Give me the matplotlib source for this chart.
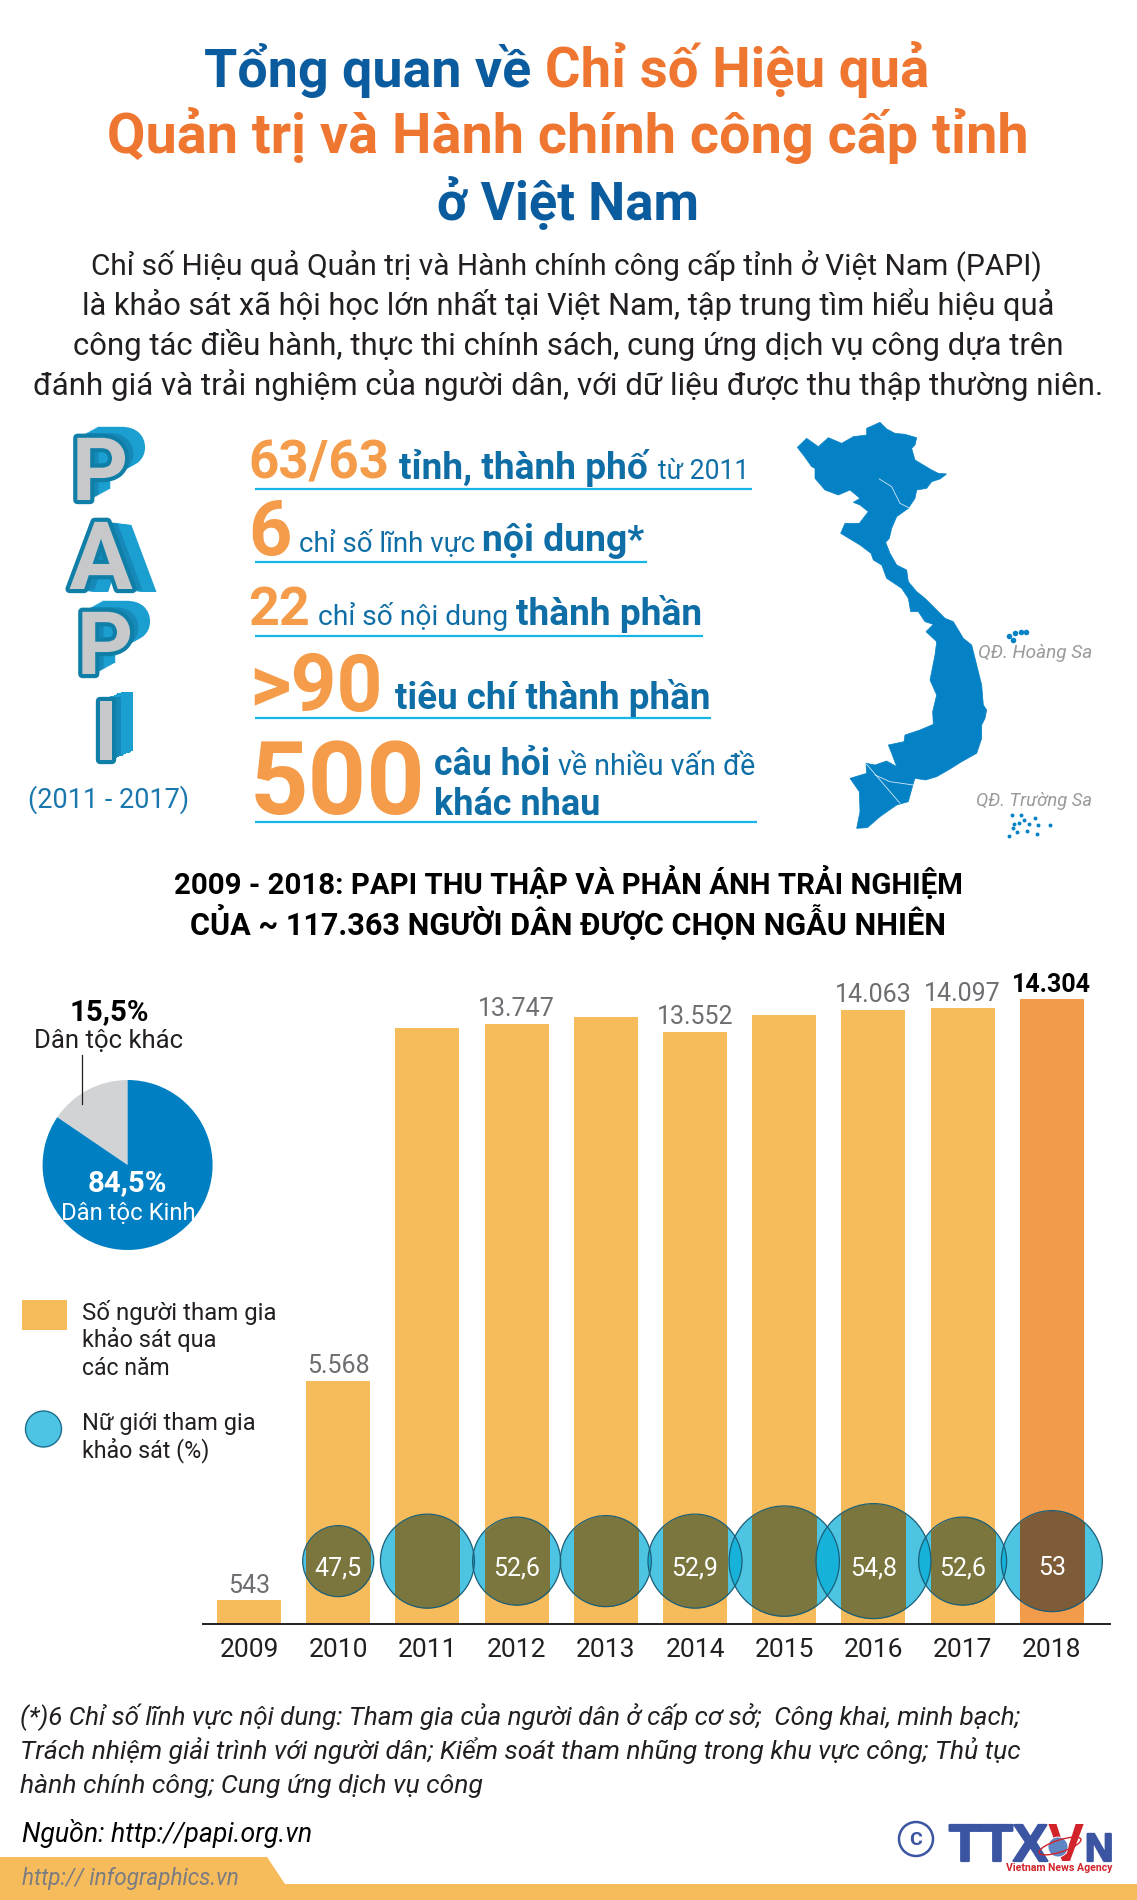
import numpy as np
import matplotlib
matplotlib.use("Agg")
import matplotlib.pyplot as plt
from matplotlib.patches import Polygon, Rectangle, Ellipse
import matplotlib.patheffects as pe

plt.rcParams['font.family'] = ['Roboto', 'Noto Sans', 'DejaVu Sans']

# --- data ---
years = ['2009', '2010', '2011', '2012', '2013', '2014', '2015', '2016', '2017', '2018']
respondents = [543, 5568, 13642, 13747, 13892, 13552, 13955, 14063, 14097, 14304]
bar_labels = ['543', '5.568', '', '13.747', '', '13.552', '', '14.063', '14.097', '14.304']
# no bubble in 2009; 2011, 2013, 2015 have no printed number, estimated from circle size
women_years = ['2010', '2011', '2012', '2013', '2014', '2015', '2016', '2017', '2018']
women_pct = [47.5, 52.9, 52.6, 52.75, 52.9, 54.2, 54.8, 52.6, 53.0]
women_labels = ['47,5', '', '52,6', '', '52,9', '', '54,8', '52,6', '53']
pie_labels = ['Dân tộc khác', 'Dân tộc Kinh']
pie_values = [15.5, 84.5]

# circle size scale (percent -> px)
scale_pct = [47.5, 52.6, 52.9, 53.0, 54.8]
scale_px = [71, 88, 94, 101, 115]

W, H = 1137, 1900
DPI = 100
BLUE_T = '#0b5c9e'
ORANGE_T = '#ef7630'
ORANGE = '#f49c4a'
BLUE = '#0f6ea6'
CYAN = '#17b4e8'
INK = '#231f20'
BAR = '#f6bc5c'
BAR_HI = '#f29b4b'
GREY = '#6d6e71'

fig = plt.figure(figsize=(W / DPI, H / DPI), dpi=DPI, facecolor='white')
renderer = fig.canvas.get_renderer()


def px_axes(x0, y0, x1, y1):
    # axes from pixel box, y counted from the top
    return fig.add_axes([x0 / W, 1 - y1 / H, (x1 - x0) / W, (y1 - y0) / H])


bg = fig.add_axes([0, 0, 1, 1])
bg.set_xlim(0, W)
bg.set_ylim(H, 0)
bg.axis('off')
bg.set_zorder(5)


def put(x0, x1, y, s, color=INK, weight='normal', style='normal', family=None):
    # text from x0 with its size set so that it ends near x1
    t = bg.text(x0, y, s, color=color, fontsize=10, fontweight=weight, fontstyle=style,
                ha='left', va='baseline', family=family or plt.rcParams['font.family'], zorder=6)
    w = t.get_window_extent(renderer).width
    t.set_fontsize(10 * (x1 - x0) / w)
    return t


# --- title ---
put(204, 532, 87, 'Tổng quan về', BLUE_T, 'bold')
put(545, 930, 87, 'Chỉ số Hiệu quả', ORANGE_T, 'bold')
put(107, 1030, 153, 'Quản trị và Hành chính công cấp tỉnh', ORANGE_T, 'bold')
put(437, 700, 220, 'ở Việt Nam', BLUE_T, 'bold')

put(91, 1044, 275, 'Chỉ số Hiệu quả Quản trị và Hành chính công cấp tỉnh ở Việt Nam (PAPI)')
put(82, 1054, 315, 'là khảo sát xã hội học lớn nhất tại Việt Nam, tập trung tìm hiểu hiệu quả')
put(73, 1064, 355, 'công tác điều hành, thực thi chính sách, cung ứng dịch vụ công dựa trên')
put(33, 1106, 395, 'đánh giá và trải nghiệm của người dân, với dữ liệu được thu thập thường niên.')

# --- PAPI letters: one text each, the depth comes from shadow effects ---
for ch, cx, base, size, dx, dy in [('P', 100, 500, 63, 20, -11), ('A', 101, 589, 68, 24, 3),
                                   ('P', 105, 674, 63, 20, -11), ('I', 106, 760, 60, 21, -9)]:
    depth = [pe.SimplePatchShadow(offset=(dx * k / 12 * 0.72, -dy * k / 12 * 0.72),
                                  shadow_rgbFace='#1b9fd1' if k > 5 else '#1789b8', alpha=1.0)
             for k in range(12, 0, -1)]
    bg.text(cx, base, ch, color='#c7c8ca', fontsize=size, fontweight='bold', ha='center', va='baseline',
            path_effects=depth + [pe.Stroke(linewidth=6, foreground='#0f7fa8'), pe.Normal()])
put(28, 188, 808, '(2011 - 2017)', '#1a77ad')

# --- numbers block ---
put(248, 388, 479, '63/63', ORANGE, 'bold')
put(399, 649, 479, 'tỉnh, thành phố', BLUE, 'bold')
put(658, 749, 479, 'từ 2011', BLUE)
put(248, 291, 555, '6', ORANGE, 'bold')
put(299, 475, 551, 'chỉ số lĩnh vực', BLUE)
put(482, 645, 551, 'nội dung*', BLUE, 'bold')
put(248, 310, 625, '22', ORANGE, 'bold')
put(318, 509, 625, 'chỉ số nội dung', BLUE)
put(516, 703, 625, 'thành phần', BLUE, 'bold')
put(249, 382, 711, '>90', ORANGE, 'bold')
put(395, 711, 709, 'tiêu chí thành phần', BLUE, 'bold')
put(250, 424, 814, '500', ORANGE, 'bold')
put(434, 551, 775, 'câu hỏi', BLUE, 'bold')
put(558, 756, 775, 'về nhiều vấn đề', BLUE)
put(434, 600, 815, 'khác nhau', BLUE, 'bold')
for y, x1 in [(488.5, 752), (561.5, 647), (635.5, 703), (717.5, 711), (822, 757)]:
    bg.plot([255, x1], [y, y], color=CYAN, lw=1.6, solid_capstyle='butt')

# --- map, outline traced in crop coords ---
map_outline = [(300, 22), (320, 42), (345, 55), (375, 58), (410, 68), (405, 90), (395, 100), (405, 135),
               (430, 150), (455, 165), (475, 175), (500, 177), (480, 192), (455, 200), (440, 220), (410, 225),
               (405, 250), (385, 280), (350, 305), (335, 340), (328, 370), (317, 382), (330, 415), (350, 450),
               (380, 465), (385, 500), (410, 530), (435, 550), (470, 585), (495, 610), (520, 620), (550, 670),
               (575, 690), (590, 750), (605, 810), (610, 870), (620, 885), (615, 910), (605, 930), (605, 970),
               (590, 1015), (545, 1040), (505, 1065), (470, 1085), (437, 1095), (405, 1090), (400, 1105),
               (385, 1160), (350, 1170), (300, 1205), (262, 1238), (230, 1240), (240, 1190), (238, 1130),
               (210, 1090), (260, 1075), (258, 1045), (285, 1050), (320, 1038), (350, 1055), (335, 1015),
               (325, 990), (372, 980), (375, 960), (420, 945), (460, 928), (458, 890), (470, 840), (450, 795),
               (465, 720), (470, 680), (438, 650), (460, 628), (435, 620), (415, 590), (392, 590), (385, 550),
               (365, 520), (320, 490), (305, 450), (280, 435), (273, 415), (240, 390), (182, 355), (195, 325),
               (238, 325), (265, 290), (240, 270), (220, 262), (240, 250), (210, 225), (175, 240), (135, 225),
               (105, 190), (105, 160), (95, 155), (70, 120), (52, 97), (80, 70), (115, 95), (145, 68), (185, 85),
               (220, 65), (260, 60), (260, 40)]
rivers = [[(298, 192), (335, 215), (360, 265), (390, 280)],
          [(260, 1048), (360, 1165)],
          [(285, 1080), (330, 1100), (400, 1110)]]
hoang_sa = [(688, 662), (705, 655), (722, 652), (738, 650), (700, 675)]
truong_sa = [(697, 1200), (722, 1200), (765, 1210), (703, 1228), (718, 1225), (733, 1215), (748, 1228),
             (775, 1230), (810, 1230), (712, 1250), (740, 1248), (770, 1258), (688, 1262), (700, 1240)]


def crop_xy(pts):
    return [(780 + a / 3, 415 + b / 3) for a, b in pts]


bg.add_patch(Polygon(crop_xy(map_outline), closed=True, fc='#0582c6', ec='#0582c6', lw=0.5))
for r in rivers:
    xs, ys = zip(*crop_xy(r))
    bg.plot(xs, ys, color='#cfe8f5', lw=0.6)
xs, ys = zip(*crop_xy(hoang_sa))
bg.scatter(xs, ys, s=16, color='#0582c6', linewidths=0)
xs, ys = zip(*crop_xy(truong_sa))
bg.scatter(xs, ys, s=8, color='#0582c6', linewidths=0)
put(978, 1092, 658, 'QĐ. Hoàng Sa', '#9a9a9a', style='italic')
put(976, 1092, 806, 'QĐ. Trường Sa', '#9a9a9a', style='italic')

# --- chart heading ---
put(174, 959, 894, '2009 - 2018: PAPI THU THẬP VÀ PHẢN ÁNH TRẢI NGHIỆM', 'black', 'bold')
put(190, 943, 935, 'CỦA ~ 117.363 NGƯỜI DÂN ĐƯỢC CHỌN NGẪU NHIÊN', 'black', 'bold')

# --- pie ---
ax_pie = px_axes(42.6, 1080, 212.6, 1250)
ax_pie.pie(pie_values, colors=['#d1d3d4', '#0080c3'], startangle=90, radius=1,
           wedgeprops={'linewidth': 0})
ax_pie.set_xlim(-1, 1)
ax_pie.set_ylim(-1, 1)
ax_pie.patch.set_alpha(0)
put(70, 149, 1020, '15,5%', 'black', 'bold')
put(34, 183, 1048, pie_labels[0])
bg.plot([82, 82], [1055, 1104], color=INK, lw=0.9, zorder=8)
put(88, 167, 1191, '84,5%', 'white', 'bold')
put(61, 196, 1219.5, pie_labels[1], 'white')

# --- legend ---
bg.add_patch(Rectangle((22, 1300), 45, 30, fc=BAR, ec='none'))
put(82, 276, 1320, 'Số người tham gia')
put(82, 216, 1347, 'khảo sát qua')
put(82, 170, 1375, 'các năm')
bg.add_patch(Ellipse((43.5, 1429), 36, 36, fc='#4dc4e3', ec='#1c6e8c', lw=1))
put(82, 256, 1430, 'Nữ giới tham gia')
put(82, 210, 1457, 'khảo sát (%)')

# --- bars and circles ---
ax = px_axes(203, 969, 1110, 1624)
ax.patch.set_alpha(0)
x = np.arange(len(years))
bars = ax.bar(x, respondents, width=0.7175, color=[BAR] * 9 + [BAR_HI], zorder=2)
ax.set_xlim(-0.5157, 9.652)
ax.set_ylim(0, 15000)
for s in ['top', 'left', 'right']:
    ax.spines[s].set_visible(False)
ax.spines['bottom'].set_linewidth(1.4)
ax.spines['bottom'].set_color(INK)
ax.set_yticks([])
ax.set_xticks(x)
ax.set_xticklabels(years, fontsize=19, color=INK)
ax.tick_params(axis='x', length=0, pad=10)

for i, lab in enumerate(bar_labels):
    if not lab:
        continue
    last = i == len(years) - 1
    ax.annotate(lab, (x[i], respondents[i]), xytext=(0, 2), textcoords='offset points', ha='center',
                va='bottom', fontsize=18, color='black' if last else GREY,
                fontweight='bold' if last else 'normal', zorder=6)

wx = np.array([years.index(y) for y in women_years])
wy = np.full(len(wx), 1440.0)
diam = np.interp(women_pct, scale_pct, scale_px)
sizes = (diam * 72 / DPI) ** 2
ax.scatter(wx, wy, s=sizes, color=(0, 171 / 255, 215 / 255), alpha=0.7, linewidths=0, zorder=1)
for j, i in enumerate(wx):
    part = ax.scatter(wx[j], wy[j], s=sizes[j], color='#7f5c38' if years[i] == '2018' else '#7a763e',
                      linewidths=0, zorder=3)
    part.set_clip_path(bars[i])
ax.scatter(wx, wy, s=sizes, facecolors='none', edgecolors='#1c5f78', linewidths=0.9, zorder=4)
for j, lab in enumerate(women_labels):
    if lab:
        ax.annotate(lab, (wx[j], wy[j]), xytext=(0, -5), textcoords='offset points', ha='center',
                    va='center', fontsize=18, color='white', zorder=6)

# --- notes and footer ---
put(20, 1019, 1725, '(*)6 Chỉ số lĩnh vực nội dung: Tham gia của người dân ở cấp cơ sở;  Công khai, minh bạch;',
    INK, style='italic')
put(20, 1014, 1759, 'Trách nhiệm giải trình với người dân; Kiểm soát tham nhũng trong khu vực công; Thủ tục',
    INK, style='italic')
put(20, 479, 1793, 'hành chính công; Cung ứng dịch vụ công', INK, style='italic')
put(22, 310, 1842, 'Nguồn: http://papi.org.vn', 'black', style='italic')

bg.add_patch(Polygon([(0, 1857), (267, 1857), (285, 1884), (W, 1884), (W, H), (0, H)], closed=True,
                     fc=BAR, ec='none'))
put(22, 238, 1885, 'http:// infographics.vn', '#7b7b82', style='italic')

# logo
LOGO = '#3b55a3'
heavy = [pe.withStroke(linewidth=1.6, foreground=LOGO)]
bg.add_patch(Ellipse((916, 1839), 34, 34, fc='none', ec=LOGO, lw=1.8))
bg.text(916, 1840, 'C', color=LOGO, fontsize=14, fontweight='bold', ha='center', va='center')
put(949, 1047, 1861, 'TTX', LOGO, 'bold', family='Liberation Sans').set_path_effects(heavy)
put(1048, 1084, 1861, 'V', '#d2232a', 'bold', family='Liberation Sans')
put(1085, 1113, 1861, 'N', LOGO, 'bold', family='Liberation Sans').set_path_effects(heavy)
bg.add_patch(Ellipse((1058, 1847), 20, 20, fc='#5f86c4', ec='white', lw=0.6, zorder=7))
bg.add_patch(Ellipse((1060, 1846), 44, 12, angle=-18, fc='none', ec='#d2232a', lw=1, zorder=7))
put(1006, 1113, 1871, 'Vietnam News Agency', '#d2232a', 'bold')

fig.savefig('out.png', dpi=DPI, facecolor='white')
